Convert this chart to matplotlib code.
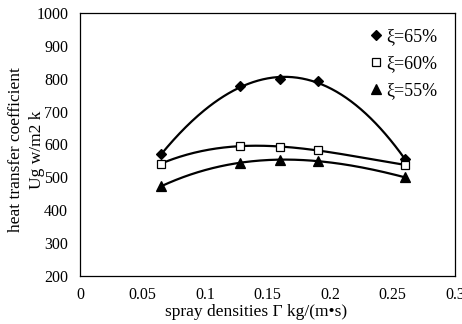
import numpy as np
import matplotlib.pyplot as plt

plt.rcParams['font.family'] = ['Liberation Serif', 'DejaVu Serif']

# spray density (kg/(m*s)) and heat transfer coefficient readings
spray = [0.065, 0.128, 0.16, 0.19, 0.26]
ug_65 = [570, 778, 798, 792, 555]
ug_60 = [542, 596, 592, 583, 538]
ug_55 = [473, 545, 553, 550, 500]

fig = plt.figure(figsize=(4.62, 3.24), dpi=100)
ax = fig.add_axes([80 / 462, 48 / 324, 375 / 462, 263 / 324])

xs = np.linspace(min(spray), max(spray), 200)
series = [
    (ug_65, 'D', 'black', 5.5, '\u03be=65%'),
    (ug_60, 's', 'white', 6, '\u03be=60%'),
    (ug_55, '^', 'black', 7, '\u03be=55%'),
]
for vals, mk, fc, ms, lab in series:
    coef = np.polyfit(spray, vals, 3)
    ax.plot(xs, np.polyval(coef, xs), color='black', lw=1.6, zorder=2)
    ax.plot(spray, vals, linestyle='none', marker=mk, markerfacecolor=fc,
            markeredgecolor='black', markersize=ms, markeredgewidth=0.9,
            label=lab, zorder=3)

ax.set_xlim(0, 0.3)
ax.set_ylim(200, 1000)
ax.set_xticks([0, 0.05, 0.1, 0.15, 0.2, 0.25, 0.3])
ax.set_xticklabels(['0', '0.05', '0.1', '0.15', '0.2', '0.25', '0.3'])
ax.set_yticks(range(200, 1001, 100))
ax.tick_params(length=0, labelsize=11.5)
ax.tick_params(axis='x', pad=8)
ax.tick_params(axis='y', pad=8.5)
for s in ax.spines.values():
    s.set_linewidth(0.9)

fig.text(256 / 462, 1 - 312 / 324, 'spray densities \u0393 kg/(m\u2022s)',
         fontsize=12.5, ha='center', va='center')
fig.text(26.5 / 462, 1 - 150 / 324, 'heat transfer coefficient\nUg w/m2 k',
         fontsize=12.5, ha='center', va='center', rotation=90,
         linespacing=1.35, multialignment='center')

ax.legend(loc='upper right', bbox_to_anchor=(1.0, 1.01), frameon=False,
          fontsize=13, handletextpad=0.05, handlelength=1.0,
          borderaxespad=0.6, labelspacing=0.55)

plt.savefig('out.png', dpi=100)
